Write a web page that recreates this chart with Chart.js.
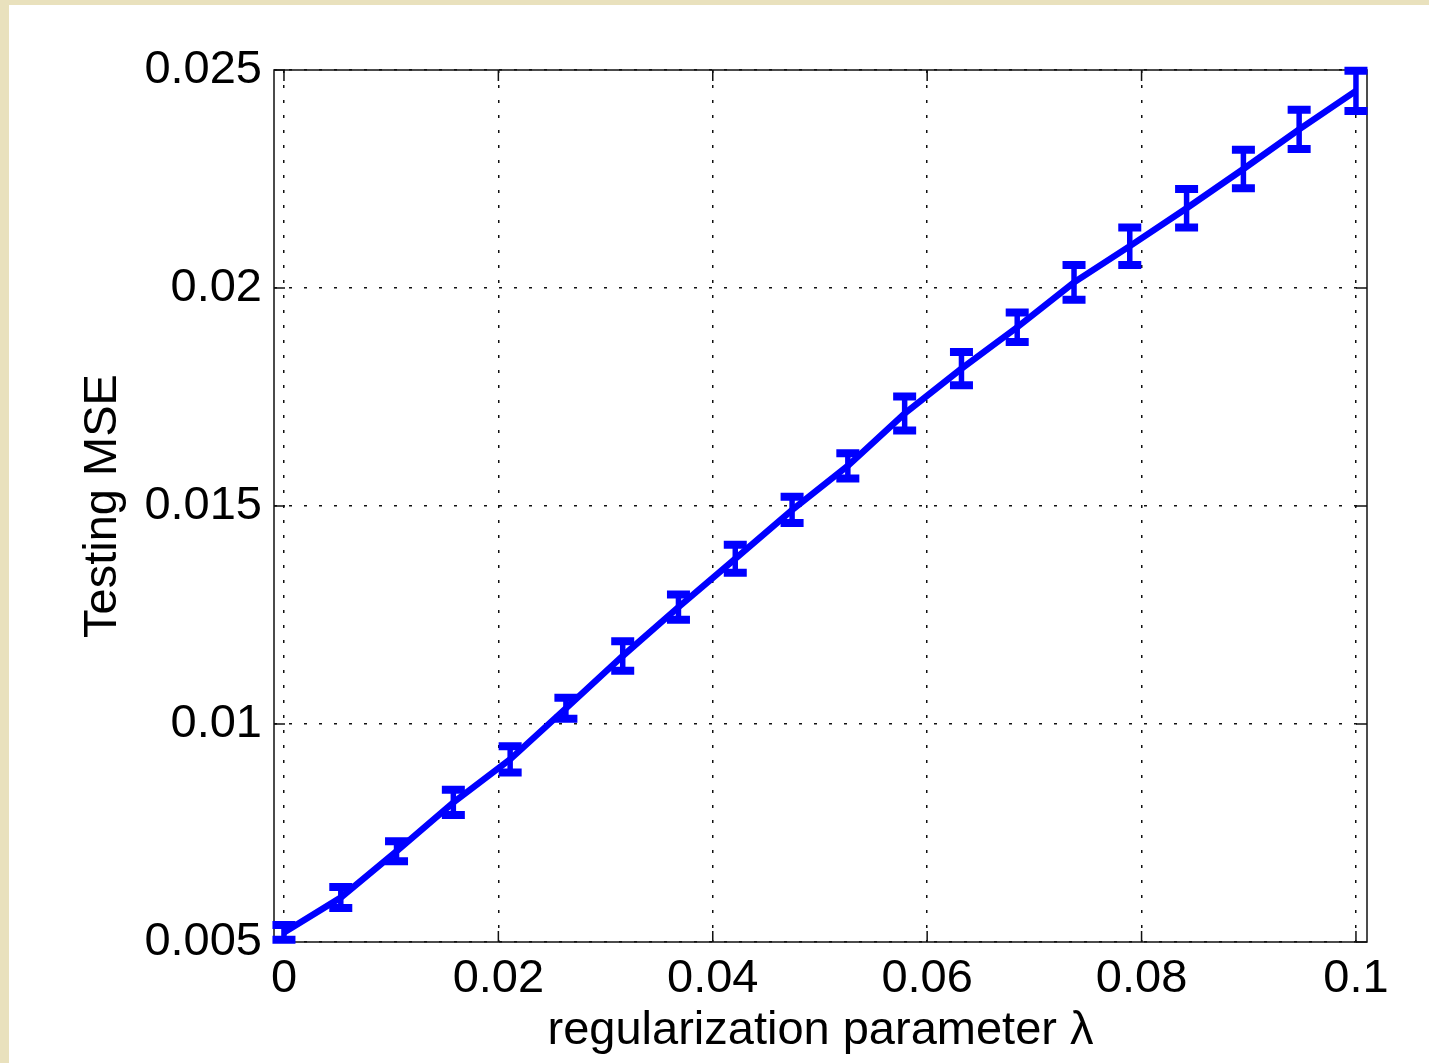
<!DOCTYPE html>
<html>
<head>
<meta charset="utf-8">
<script src="https://cdn.jsdelivr.net/npm/chart.js@4.4.0/dist/chart.umd.min.js"></script>
<style>
  html, body { margin: 0; padding: 0; }
  body { width: 1429px; height: 1063px; background: #e9e1bd; position: relative; overflow: hidden; }
  #panel { position: absolute; left: 9px; top: 5px; right: 0; bottom: 0; background: #fff; }
  #wrap { position: absolute; left: 0; top: 0; width: 1429px; height: 1063px; }
</style>
</head>
<body>
<div id="panel"></div>
<div id="wrap"><canvas id="mseChart" width="1429" height="1063"></canvas></div>
<script>
// valeurs
const lambdaValues = [0, 0.0053, 0.0105, 0.0158, 0.0211, 0.0263, 0.0316, 0.0368, 0.0421, 0.0474,
  0.0526, 0.0579, 0.0632, 0.0684, 0.0737, 0.0789, 0.0842, 0.0895, 0.0947, 0.1];
const mseValues = [0.00522, 0.00602, 0.00708, 0.00820, 0.00919, 0.01036, 0.01156, 0.01268, 0.01379, 0.01491,
  0.01592, 0.01712, 0.01815, 0.01910, 0.02013, 0.02096, 0.02183, 0.02273, 0.02364, 0.02452];
const mseErrors = [0.00017, 0.00024, 0.00023, 0.00029, 0.00030, 0.00024, 0.00034, 0.00029, 0.00032, 0.00030,
  0.00029, 0.00039, 0.00038, 0.00034, 0.00040, 0.00043, 0.00044, 0.00044, 0.00045, 0.00046];

const xTicks = [0, 0.02, 0.04, 0.06, 0.08, 0.1];
const xTickLabels = ["0", "0.02", "0.04", "0.06", "0.08", "0.1"];
const yTicks = [0.005, 0.01, 0.015, 0.02, 0.025];
const yTickLabels = ["0.005", "0.01", "0.015", "0.02", "0.025"];

Chart.defaults.font.family = '"Liberation Sans", Arial, sans-serif';
Chart.defaults.color = '#000';

// cadre + petites graduations vers l'intérieur
const framePlugin = {
  id: 'frame',
  beforeDatasetsDraw(chart) {
    const { ctx, chartArea: a, scales: { x, y } } = chart;
    ctx.save();
    ctx.strokeStyle = '#111';
    ctx.lineWidth = 1.5;
    ctx.strokeRect(a.left, a.top, a.right - a.left, a.bottom - a.top);
    const len = 11;
    ctx.beginPath();
    x.ticks.forEach(t => {
      const px = x.getPixelForValue(t.value);
      ctx.moveTo(px, a.bottom); ctx.lineTo(px, a.bottom - len);
      ctx.moveTo(px, a.top); ctx.lineTo(px, a.top + len);
    });
    y.ticks.forEach(t => {
      const py = y.getPixelForValue(t.value);
      ctx.moveTo(a.left, py); ctx.lineTo(a.left + len, py);
      ctx.moveTo(a.right, py); ctx.lineTo(a.right - len, py);
    });
    ctx.stroke();
    ctx.restore();
  }
};

// barres d'erreur
const errorBarsPlugin = {
  id: 'errorBars',
  afterDatasetsDraw(chart) {
    const { ctx, scales: { x, y } } = chart;
    ctx.save();
    ctx.strokeStyle = '#0000ff';
    ctx.lineCap = 'butt';
    lambdaValues.forEach((lam, i) => {
      const px = x.getPixelForValue(lam);
      const top = y.getPixelForValue(mseValues[i] + mseErrors[i]);
      const bot = y.getPixelForValue(mseValues[i] - mseErrors[i]);
      ctx.lineWidth = 5.5;
      ctx.beginPath();
      ctx.moveTo(px, top); ctx.lineTo(px, bot);
      ctx.stroke();
      ctx.lineWidth = 8;
      ctx.beginPath();
      ctx.moveTo(px - 11.5, top); ctx.lineTo(px + 11.5, top);
      ctx.moveTo(px - 11.5, bot); ctx.lineTo(px + 11.5, bot);
      ctx.stroke();
    });
    ctx.restore();
  }
};

new Chart(document.getElementById('mseChart'), {
  type: 'line',
  data: {
    datasets: [{
      data: lambdaValues.map((v, i) => ({ x: v, y: mseValues[i] })),
      borderColor: '#0000ff',
      borderWidth: 6.5,
      pointRadius: 0,
      tension: 0,
      clip: false,
    }],
  },
  options: {
    responsive: false,
    animation: false,
    layout: { padding: { top: 70, right: 62, left: 0, bottom: 0 } },
    plugins: {
      legend: { display: false },
      tooltip: { enabled: false },
    },
    scales: {
      x: {
        type: 'linear',
        min: -0.00093,
        max: 0.10103,
        afterBuildTicks: scale => { scale.ticks = xTicks.map(v => ({ value: v })); },
        afterFit: scale => { scale.height = 121; },
        ticks: {
          font: { size: 47 },
          padding: 9,
          maxRotation: 0,
          callback: (value, index) => xTickLabels[index],
        },
        grid: { color: '#111', lineWidth: 1.5, drawTicks: false },
        border: { display: false, dash: [3, 12] },
        title: {
          display: true,
          text: 'regularization parameter λ',
          font: { size: 47 },
          padding: { top: 0, bottom: 4 },
        },
      },
      y: {
        type: 'linear',
        min: 0.005,
        max: 0.025,
        afterBuildTicks: scale => { scale.ticks = yTicks.map(v => ({ value: v })); },
        afterFit: scale => { scale.width = 274; },
        ticks: {
          font: { size: 47 },
          padding: 12,
          callback: (value, index) => yTickLabels[index],
        },
        grid: { color: '#111', lineWidth: 1.5, drawTicks: false },
        border: { display: false, dash: [3, 12] },
        title: {
          display: true,
          text: 'Testing MSE',
          font: { size: 47 },
          padding: { top: 75, bottom: 0 },
        },
      },
    },
  },
  plugins: [framePlugin, errorBarsPlugin],
});
</script>
</body>
</html>
